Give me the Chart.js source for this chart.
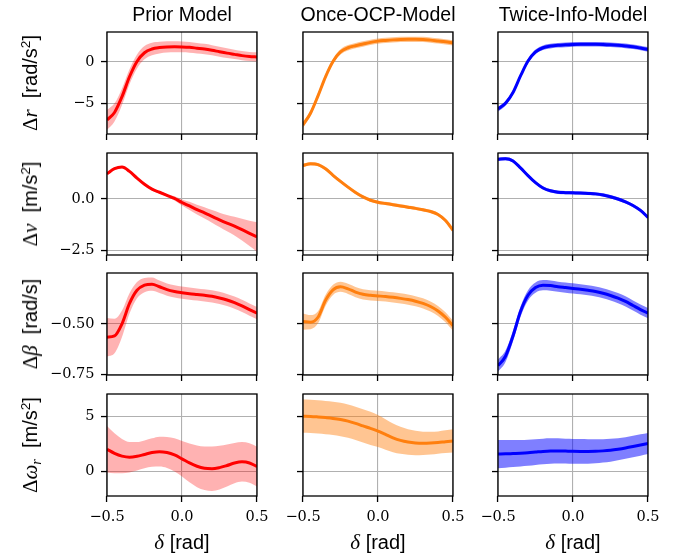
<!DOCTYPE html>
<html>
<head>
<meta charset="utf-8">
<script src="https://cdn.jsdelivr.net/npm/chart.js@4.4.1/dist/chart.umd.min.js"></script>
<style>
  html, body { margin: 0; padding: 0; background: #fff; }
  #wrap { position: relative; width: 682px; height: 554px; overflow: hidden; background: #fff; }
  canvas { position: absolute; }
  .title { position: absolute; width: 200px; text-align: center; font-family: "Liberation Sans", Arial, sans-serif; font-size: 19.5px; line-height: 20px; color: #000; white-space: nowrap; }
  .ylab { position: absolute; white-space: nowrap; font-family: "Liberation Sans", Arial, sans-serif; font-size: 20px; line-height: 22px; color: #000; transform: translate(-50%, -50%) rotate(-90deg); }
  .xlab { position: absolute; width: 160px; text-align: center; font-family: "Liberation Sans", Arial, sans-serif; font-size: 20px; line-height: 22px; color: #000; white-space: nowrap; }
  .m { font-family: "Liberation Serif", "Times New Roman", serif; font-size: 21px; }
  .m i { font-style: italic; }
  sup { font-size: 0.68em; vertical-align: 0.55em; line-height: 0; }
  sub { font-size: 0.68em; vertical-align: -0.25em; line-height: 0; }
</style>
</head>
<body>
<div id="wrap"></div>
<script>
// ---------------- DATA ----------------
const DELTA = [-0.5,-0.45,-0.4,-0.35,-0.3,-0.25,-0.2,-0.15,-0.1,-0.05,0,0.05,0.1,0.15,0.2,0.25,0.3,0.35,0.4,0.45,0.5];
const MODELS = ['Prior Model', 'Once-OCP-Model', 'Twice-Info-Model'];

const X_TICKS = [-0.5, 0, 0.5];
const X_TICK_LABELS = ['\u22120.5', '0.0', '0.5'];

const DR_TICKS = [-5, 0];
const DR_TICK_LABELS = ['\u22125', '0'];
const DV_TICKS = [-2.5, 0];
const DV_TICK_LABELS = ['\u22122.5', '0.0'];
const DB_TICKS = [-0.75, -0.5];
const DB_TICK_LABELS = ['\u22120.75', '\u22120.50'];
const DW_TICKS = [0, 5];
const DW_TICK_LABELS = ['0', '5'];

// Δr [rad/s^2]
const dr_prior     = [-7.0,-6.1,-4.2,-1.8,0.05,1.1,1.55,1.72,1.8,1.82,1.8,1.75,1.65,1.55,1.4,1.22,1.05,0.9,0.75,0.65,0.6];
const dr_prior_sd  = [1.2,1.1,1.0,0.9,0.85,0.8,0.75,0.7,0.68,0.66,0.65,0.64,0.63,0.62,0.61,0.6,0.58,0.57,0.56,0.55,0.55];
const dr_once      = [-7.6,-6.2,-4.1,-1.8,0.05,1.2,1.7,1.95,2.15,2.35,2.5,2.58,2.65,2.7,2.72,2.72,2.7,2.62,2.52,2.42,2.3];
const dr_once_sd   = [0.35,0.34,0.33,0.32,0.32,0.32,0.32,0.32,0.32,0.32,0.32,0.32,0.32,0.32,0.32,0.32,0.32,0.32,0.32,0.32,0.32];
const dr_twice     = [-5.7,-5.0,-3.7,-1.7,0.1,1.2,1.7,1.9,2.0,2.05,2.1,2.12,2.12,2.12,2.1,2.06,2.0,1.92,1.82,1.67,1.5];
const dr_twice_sd  = [0.3,0.29,0.28,0.28,0.28,0.28,0.28,0.28,0.28,0.28,0.28,0.28,0.28,0.28,0.28,0.28,0.28,0.28,0.28,0.28,0.28];

// Δv [m/s^2]
const dv_prior     = [1.23,1.48,1.56,1.35,1.02,0.72,0.48,0.33,0.18,0.03,-0.17,-0.34,-0.52,-0.68,-0.85,-1.02,-1.18,-1.33,-1.5,-1.68,-1.86];
const dv_prior_sd  = [0.06,0.06,0.06,0.06,0.06,0.06,0.06,0.06,0.07,0.1,0.15,0.2,0.24,0.28,0.31,0.35,0.4,0.46,0.53,0.62,0.72];
const dv_once      = [1.64,1.72,1.68,1.48,1.16,0.86,0.58,0.32,0.1,-0.06,-0.16,-0.22,-0.28,-0.34,-0.4,-0.46,-0.53,-0.61,-0.76,-1.05,-1.53];
const dv_once_sd   = [0.08,0.08,0.08,0.08,0.08,0.08,0.08,0.08,0.08,0.08,0.08,0.08,0.08,0.08,0.08,0.08,0.08,0.08,0.08,0.08,0.09];
const dv_twice     = [1.94,1.97,1.86,1.52,1.14,0.8,0.54,0.4,0.33,0.31,0.3,0.29,0.27,0.25,0.2,0.11,0.0,-0.14,-0.32,-0.56,-0.9];
const dv_twice_sd  = [0.08,0.08,0.08,0.08,0.08,0.08,0.08,0.08,0.08,0.08,0.08,0.08,0.08,0.08,0.08,0.08,0.08,0.08,0.08,0.08,0.09];

// Δβ [rad/s]
const db_prior     = [-0.566,-0.56,-0.5,-0.4,-0.335,-0.31,-0.305,-0.318,-0.332,-0.341,-0.347,-0.352,-0.356,-0.36,-0.365,-0.373,-0.383,-0.396,-0.412,-0.43,-0.448];
const db_prior_sd  = [0.095,0.085,0.065,0.05,0.04,0.035,0.033,0.031,0.03,0.03,0.03,0.03,0.03,0.03,0.03,0.03,0.03,0.03,0.03,0.03,0.03];
const db_once      = [-0.489,-0.492,-0.468,-0.385,-0.333,-0.318,-0.328,-0.344,-0.355,-0.36,-0.363,-0.366,-0.37,-0.375,-0.381,-0.389,-0.4,-0.415,-0.437,-0.468,-0.51];
const db_once_sd   = [0.04,0.035,0.03,0.027,0.025,0.025,0.025,0.025,0.025,0.025,0.025,0.025,0.025,0.025,0.025,0.025,0.025,0.025,0.025,0.025,0.025];
const db_twice     = [-0.706,-0.66,-0.56,-0.44,-0.36,-0.322,-0.31,-0.312,-0.318,-0.322,-0.326,-0.33,-0.335,-0.341,-0.35,-0.361,-0.374,-0.39,-0.41,-0.43,-0.448];
const db_twice_sd  = [0.03,0.028,0.026,0.025,0.025,0.025,0.025,0.025,0.025,0.025,0.025,0.025,0.025,0.025,0.025,0.025,0.025,0.025,0.025,0.025,0.025];

// Δω_r [m/s^2]
const dw_prior     = [2.02,1.65,1.4,1.3,1.38,1.55,1.72,1.8,1.72,1.5,1.15,0.78,0.48,0.3,0.26,0.36,0.55,0.77,0.88,0.78,0.45];
const dw_prior_sd  = [2.1,1.8,1.55,1.38,1.28,1.25,1.28,1.35,1.4,1.5,1.6,1.75,1.88,1.96,2.0,1.98,1.9,1.82,1.78,1.78,1.8];
const dw_once      = [5.0,4.98,4.93,4.87,4.8,4.7,4.55,4.35,4.12,3.9,3.66,3.35,3.05,2.82,2.67,2.58,2.55,2.57,2.62,2.7,2.77];
const dw_once_sd   = [1.5,1.5,1.5,1.5,1.5,1.5,1.5,1.5,1.5,1.5,1.45,1.38,1.3,1.22,1.15,1.1,1.05,1.02,1.0,1.02,1.05];
const dw_twice     = [1.58,1.6,1.63,1.66,1.7,1.76,1.82,1.86,1.87,1.85,1.83,1.82,1.82,1.83,1.87,1.93,2.02,2.13,2.26,2.4,2.53];
const dw_twice_sd  = [1.27,1.25,1.22,1.2,1.18,1.16,1.15,1.14,1.13,1.12,1.12,1.11,1.1,1.08,1.05,1.03,1.0,0.98,0.97,0.96,0.95];

// ---------------- LAYOUT / STYLE ----------------
const LINE_COLORS = ['#ff0000', '#ff7f0e', '#0000ff'];
const BAND_COLORS = ['rgba(255,0,0,0.30)', 'rgba(255,127,14,0.45)', 'rgba(0,0,255,0.50)'];
const COL_LEFT = [107, 303, 498];
const ROW_TOP = [32, 153, 273, 394];
const PW = 150, PH = 102;

const ROWS = [
  { ticks: DR_TICKS, labels: DR_TICK_LABELS, min: -8.7, max: 3.6,
    means: [dr_prior, dr_once, dr_twice], sds: [dr_prior_sd, dr_once_sd, dr_twice_sd],
    label: '<span class="m">\u0394<i>r</i></span>&nbsp;&nbsp;[rad/s<sup>2</sup>]' },
  { ticks: DV_TICKS, labels: DV_TICK_LABELS, min: -2.74, max: 2.25,
    means: [dv_prior, dv_once, dv_twice], sds: [dv_prior_sd, dv_once_sd, dv_twice_sd],
    label: '<span class="m">\u0394<i>v</i></span>&nbsp;&nbsp;[m/s<sup>2</sup>]' },
  { ticks: DB_TICKS, labels: DB_TICK_LABELS, min: -0.752, max: -0.2502,
    means: [db_prior, db_once, db_twice], sds: [db_prior_sd, db_once_sd, db_twice_sd],
    label: '<span class="m">\u0394<i>\u03B2</i></span>&nbsp;&nbsp;[rad/s]' },
  { ticks: DW_TICKS, labels: DW_TICK_LABELS, min: -2.2, max: 7.0,
    means: [dw_prior, dw_once, dw_twice], sds: [dw_prior_sd, dw_once_sd, dw_twice_sd],
    label: '<span class="m">\u0394<i>\u03C9</i><sub><i>r</i></sub></span>&nbsp;&nbsp;[m/s<sup>2</sup>]' }
];

const wrap = document.getElementById('wrap');

const framePlugin = {
  id: 'frame',
  afterDraw(chart) {
    const a = chart.chartArea, ctx = chart.ctx;
    ctx.save();
    ctx.strokeStyle = '#000';
    ctx.lineWidth = 1.3;
    ctx.strokeRect(a.left, a.top, a.right - a.left, a.bottom - a.top);
    ctx.restore();
  }
};

const TICK_FONT = { family: 'DejaVu Serif', size: 14.5 };

function pts(arr) { return DELTA.map((x, i) => ({ x: x, y: arr[i] })); }

ROWS.forEach((row, r) => {
  const isBottom = r === ROWS.length - 1;
  for (let c = 0; c < 3; c++) {
    const L = c === 0 ? 107 : 44, R = 28, T = 20, B = isBottom ? 40 : 20;
    const cv = document.createElement('canvas');
    cv.width = L + PW + R; cv.height = T + PH + B;
    cv.style.left = (COL_LEFT[c] - L) + 'px';
    cv.style.top = (ROW_TOP[r] - T) + 'px';
    wrap.appendChild(cv);

    const mean = row.means[c], sd = row.sds[c];
    const upper = mean.map((v, i) => v + sd[i]);
    const lower = mean.map((v, i) => v - sd[i]);

    new Chart(cv, {
      type: 'line',
      data: {
        datasets: [
          { data: pts(mean), borderColor: LINE_COLORS[c], borderWidth: 3, pointRadius: 0,
            fill: false, cubicInterpolationMode: 'monotone', order: 0 },
          { data: pts(upper), borderColor: 'rgba(0,0,0,0)', borderWidth: 0, pointRadius: 0,
            backgroundColor: BAND_COLORS[c], fill: '+1', cubicInterpolationMode: 'monotone', order: 1 },
          { data: pts(lower), borderColor: 'rgba(0,0,0,0)', borderWidth: 0, pointRadius: 0,
            fill: false, cubicInterpolationMode: 'monotone', order: 2 }
        ]
      },
      options: {
        responsive: false, animation: false, devicePixelRatio: 1,
        layout: { padding: 0 },
        plugins: { legend: { display: false }, tooltip: { enabled: false } },
        scales: {
          x: {
            type: 'linear', position: 'bottom', min: -0.5, max: 0.5,
            afterBuildTicks: s => { s.ticks = X_TICKS.map(v => ({ value: v })); },
            afterFit: s => { s.height = B; },
            grid: { color: '#b0b0b0', lineWidth: 1.1, drawTicks: true, tickLength: 6, tickColor: '#000', tickWidth: 1.3 },
            border: { display: false },
            ticks: { display: isBottom, autoSkip: false, maxRotation: 0, padding: 7, color: '#000', font: TICK_FONT,
              callback: v => X_TICK_LABELS[X_TICKS.indexOf(v)] }
          },
          xTop: {
            type: 'linear', position: 'top', display: true,
            grid: { display: false, drawTicks: false }, ticks: { display: false }, border: { display: false },
            afterFit: s => { s.height = T; }
          },
          y: {
            type: 'linear', position: 'left', min: row.min, max: row.max,
            afterBuildTicks: s => { s.ticks = row.ticks.map(v => ({ value: v })); },
            afterFit: s => { s.width = L; },
            grid: { color: '#b0b0b0', lineWidth: 1.1, drawTicks: true, tickLength: 6, tickColor: '#000', tickWidth: 1.3 },
            border: { display: false },
            ticks: { display: c === 0, autoSkip: false, padding: 6.5, color: '#000', font: TICK_FONT,
              callback: v => row.labels[row.ticks.indexOf(v)] }
          },
          yRight: {
            type: 'linear', position: 'right', display: true,
            grid: { display: false, drawTicks: false }, ticks: { display: false }, border: { display: false },
            afterFit: s => { s.width = R; }
          }
        }
      },
      plugins: [framePlugin]
    });
  }

  const yl = document.createElement('div');
  yl.className = 'ylab';
  yl.style.left = '30px';
  yl.style.top = (ROW_TOP[r] + PH / 2) + 'px';
  yl.innerHTML = row.label;
  wrap.appendChild(yl);
});

MODELS.forEach((name, c) => {
  const t = document.createElement('div');
  t.className = 'title';
  t.style.left = (COL_LEFT[c] + PW / 2 - 100) + 'px';
  t.style.top = '4px';
  t.textContent = name;
  wrap.appendChild(t);

  const xl = document.createElement('div');
  xl.className = 'xlab';
  xl.style.left = (COL_LEFT[c] + PW / 2 - 80) + 'px';
  xl.style.top = '531px';
  xl.innerHTML = '<span class="m"><i>\u03B4</i></span>&nbsp;[rad]';
  wrap.appendChild(xl);
});
</script>
</body>
</html>
